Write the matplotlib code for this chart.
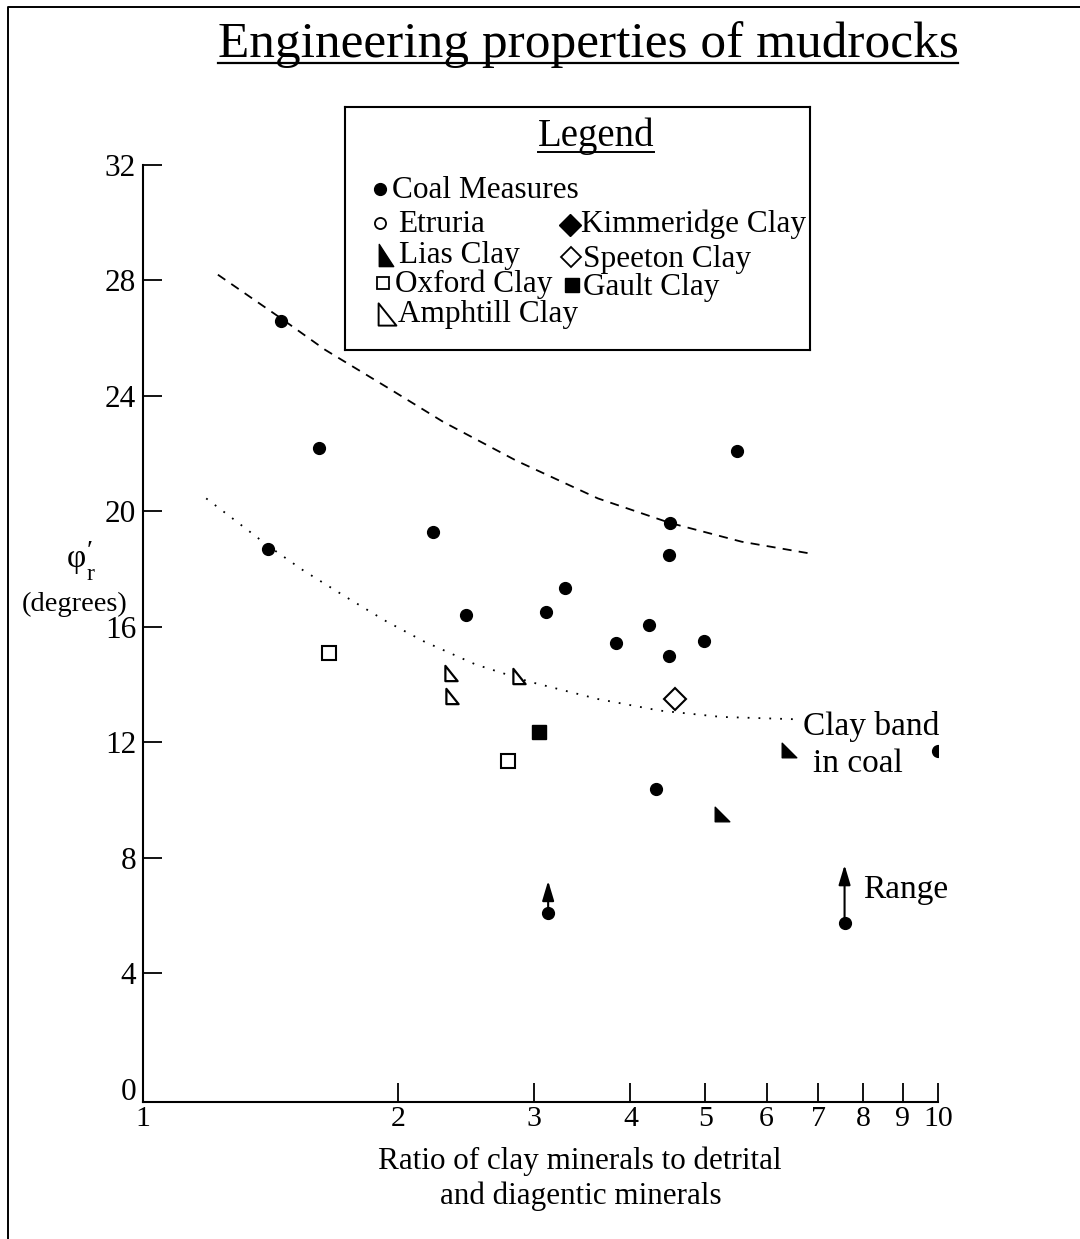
import matplotlib
matplotlib.use('Agg')
import matplotlib.pyplot as plt
from matplotlib.path import Path
from matplotlib.lines import Line2D

plt.rcParams['font.family'] = ['Liberation Serif', 'DejaVu Serif']

W, H = 1080, 1239

# ratio of clay minerals vs residual friction angle (degrees)
coal_x = [1.41, 1.58, 1.36, 2.22, 2.45, 3.11, 3.29, 5.50, 4.50, 4.48, 4.23, 3.83, 4.98, 4.48, 4.32, 9.99, 3.13, 7.57]
coal_y = [26.6, 22.2, 18.7, 19.3, 16.4, 16.5, 17.35, 22.1, 19.6, 18.5, 16.05, 15.45, 15.5, 15.0, 10.4, 11.7, 6.1, 5.75]
lias_x = [6.41, 5.25]
lias_y = [11.75, 9.5]
oxford_x = [1.63, 2.78]
oxford_y = [15.1, 11.35]
amphtill_x = [2.34, 2.35, 2.87]
amphtill_y = [14.4, 13.6, 14.3]
gault_x = [3.05]
gault_y = [12.35]
speeton_x = [4.57]
speeton_y = [13.5]

# two coal measures samples given as a range
range_x = [3.13, 7.57]
range_lo = [6.1, 5.75]
range_hi = [7.2, 7.75]

# hand drawn trend lines
upper_x = [1.17, 1.41, 1.61, 1.95, 2.29, 2.85, 3.63, 4.50, 5.57, 6.80]
upper_y = [28.2, 26.7, 25.6, 24.25, 23.1, 21.75, 20.45, 19.6, 18.95, 18.55]
lower_x = [1.13, 1.23, 1.36, 1.51, 1.71, 1.93, 2.16, 2.52, 2.96, 3.63, 4.36, 5.24, 6.52]
lower_y = [20.45, 19.7, 18.8, 17.95, 17.05, 16.2, 15.5, 14.7, 14.1, 13.5, 13.1, 12.88, 12.8]

x_ticks = [2, 3, 4, 5, 6, 7, 8, 9, 10]
y_ticks = [0, 4, 8, 12, 16, 20, 24, 28, 32]
x_origin = 0.936   # axis corner, labelled "1"


def right_triangle(w=1.0):
    # vertical left side, flat bottom, hypotenuse falling to the right
    return Path([(-w, -1), (w, -1), (-w, 1), (-w, -1)],
                [Path.MOVETO, Path.LINETO, Path.LINETO, Path.CLOSEPOLY])


tri = right_triangle()
tri_tall = right_triangle(0.65)
tri_open = right_triangle(0.8)


def fx(x):
    return x / W


def fy(y):
    return 1 - y / H


fig = plt.figure(figsize=(W / 100, H / 100), dpi=100)
ax = fig.add_axes([fx(143), fy(1101.7), (938 - 143) / W, (1101.7 - 165) / H])
ax.set_xscale('log')
ax.set_xlim(x_origin, 10)
ax.set_ylim(-0.45, 32)
for s in ['top', 'right']:
    ax.spines[s].set_visible(False)
for s in ['left', 'bottom']:
    ax.spines[s].set_linewidth(1.5)

ax.set_xticks([x_origin] + x_ticks)
ax.set_xticklabels(['1'] + [str(t) for t in x_ticks])
ax.xaxis.set_minor_locator(matplotlib.ticker.NullLocator())
ax.set_yticks(y_ticks)
ax.set_yticklabels([str(t) for t in y_ticks])
ax.tick_params(axis='x', direction='in', length=14, width=1.3, labelsize=21.5, pad=3)
ax.tick_params(axis='y', direction='in', length=14, width=1.3, labelsize=22.5, pad=5)
ax.xaxis.get_major_ticks()[0].tick1line.set_visible(False)
ax.yaxis.get_major_ticks()[0].tick1line.set_visible(False)

ax.plot(upper_x, upper_y, color='black', lw=1.3, ls=(0, (5, 4)))
ax.plot(lower_x, lower_y, color='black', lw=1.3, ls=(0, (1, 5)))

ax.plot(coal_x, coal_y, 'o', color='black', ms=8.5)
ax.plot(lias_x, lias_y, marker=tri, ls='none', color='black', ms=10.5)
ax.plot(oxford_x, oxford_y, 's', mfc='white', mec='black', mew=1.5, ms=9.5)
ax.plot(amphtill_x, amphtill_y, marker=tri_open, ls='none', mfc='white', mec='black', mew=1.6, ms=11)
ax.plot(gault_x, gault_y, 's', color='black', ms=9.5)
ax.plot(speeton_x, speeton_y, 'D', mfc='white', mec='black', mew=1.5, ms=11.5)

for x, lo, hi in zip(range_x, range_lo, range_hi):
    ax.annotate('', xy=(x, hi), xytext=(x, lo),
                arrowprops=dict(arrowstyle='-|>,head_length=0.6,head_width=0.18',
                                color='black', lw=1.5, shrinkA=0, shrinkB=0,
                                mutation_scale=20))

ax.text(6.69, 12.55, 'Clay band', fontsize=24, va='center', ha='left')
ax.text(6.89, 11.25, 'in coal', fontsize=24, va='center', ha='left')
ax.text(8.0, 6.9, 'Range', fontsize=24, va='center', ha='left')

# y axis label
fig.text(fx(76), fy(567), 'φ', fontsize=24, ha='center', va='baseline')
fig.text(fx(90), fy(559), '′', fontsize=20, ha='center', va='baseline')
fig.text(fx(90), fy(580), 'r', fontsize=17, ha='center', va='baseline')
fig.text(fx(75), fy(611), '(degrees)', fontsize=20.5, ha='center', va='baseline')

# x axis label
fig.text(fx(580), fy(1169), 'Ratio of clay minerals to detrital', fontsize=22.4, ha='center', va='baseline')
fig.text(fx(581), fy(1204), 'and diagentic minerals', fontsize=22.4, ha='center', va='baseline')

title = fig.text(fx(588), fy(57), 'Engineering properties of mudrocks', fontsize=37,
                 ha='center', va='baseline')

# legend panel
lax = fig.add_axes([fx(345), fy(350), 465 / W, 243 / H])
lax.set_xlim(345, 810)
lax.set_ylim(350, 107)
lax.set_xticks([])
lax.set_yticks([])
for s in lax.spines.values():
    s.set_linewidth(1.5)

leg_title = lax.text(596, 146, 'Legend', fontsize=28, ha='center', va='baseline')

entries = [
    (380, 189, dict(marker='o', color='black', ms=8.5), 392, 197.5, 'Coal Measures'),
    (380, 223, dict(marker='o', mfc='white', mec='black', mew=1.3, ms=8), 398, 231.5, 'Etruria'),
    (570, 225, dict(marker='D', color='black', ms=11), 581, 231.5, 'Kimmeridge Clay'),
    (386, 255, dict(marker=tri_tall, color='black', ms=16), 399, 263, 'Lias Clay'),
    (571, 257, dict(marker='D', mfc='white', mec='black', mew=1.3, ms=10.5), 583, 266.5, 'Speeton Clay'),
    (383, 283, dict(marker='s', mfc='white', mec='black', mew=1.3, ms=8.5), 395, 291.5, 'Oxford Clay'),
    (572, 285, dict(marker='s', color='black', ms=10), 583, 295, 'Gault Clay'),
    (387, 314, dict(marker=tri_open, mfc='white', mec='black', mew=1.4, ms=16), 398, 321.5, 'Amphtill Clay'),
]
for mx, my, style, tx, ty, label in entries:
    lax.plot([mx], [my], ls='none', **style)
    lax.text(tx, ty, label, fontsize=22.5, ha='left', va='baseline')

# underlines for title and legend heading
fig.canvas.draw()
renderer = fig.canvas.get_renderer()
for txt, y, lw in [(title, 63, 1.6), (leg_title, 151.5, 1.4)]:
    bb = txt.get_window_extent(renderer)
    fig.add_artist(Line2D([bb.x0 / W, bb.x1 / W], [fy(y), fy(y)],
                          transform=fig.transFigure, color='black', lw=lw))

# page frame
fig.add_artist(Line2D([fx(8), fx(8), fx(1080)], [0, fy(7), fy(7)],
                      transform=fig.transFigure, color='black', lw=1.4))

fig.savefig('out.png', dpi=100)
